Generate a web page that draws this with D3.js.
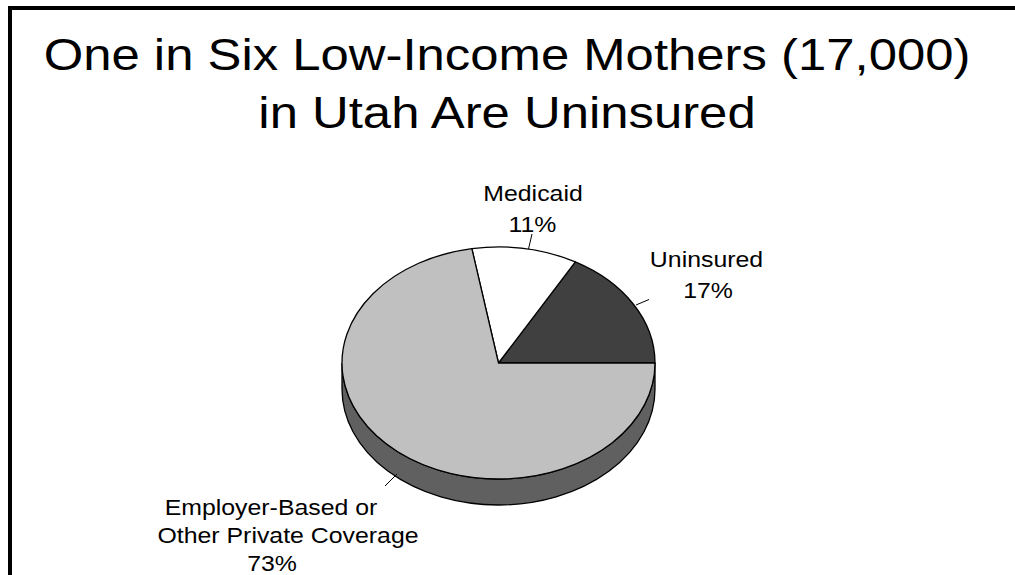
<!DOCTYPE html>
<html>
<head>
<meta charset="utf-8">
<script src="https://cdn.jsdelivr.net/npm/d3@7"></script>
<style>
  html, body { margin: 0; padding: 0; background: #fff; }
  svg { display: block; font-family: "Liberation Sans", Arial, sans-serif; }
</style>
</head>
<body>
<script>
// Coverage of low-income mothers in Utah (percent)
const categories = ["Uninsured", "Medicaid", "Employer-Based or Other Private Coverage"];
const values = [17, 11, 73];
const labelLines = [["Uninsured", "17%"], ["Medicaid", "11%"], ["Employer-Based or", "Other Private Coverage", "73%"]];
const titleLines = ["One in Six Low-Income Mothers (17,000)", "in Utah Are Uninsured"];

const W = 1015, H = 575;
const fills = ["#404040", "#ffffff", "#c0c0c0"];
const sideFill = "#606060";
const stretchX = 1.13;   // text is set slightly wide

// Pie geometry: a flattened disc seen from above
const cx = 498.5, cy = 363, rx = 156.5, ry = 116, depth = 26;
const k = ry / rx;

// Label placement: per-line centres and baselines, plus leader line
const labelLayout = [
  { xs: [706.5, 708], ys: [267, 298], leader: [[636, 305], [649, 299.5]] },
  { xs: [533, 532.5], ys: [201, 232], leader: [[528.5, 249], [532, 234]] },
  { xs: [271, 288, 272], ys: [515, 543, 571], leader: [[385, 486], [397, 474]] }
];

const svg = d3.select("body").append("svg")
  .attr("width", W).attr("height", H);

// Frame edges
svg.append("path")
  .attr("d", `M10,${H} L10,8 L${W},8`)
  .attr("fill", "none").attr("stroke", "#000").attr("stroke-width", 4);

// Writes one centred, horizontally stretched line of text
function line(sel, str, x, y, size) {
  sel.append("text")
    .attr("transform", `translate(${x},${y}) scale(${stretchX},1)`)
    .attr("text-anchor", "middle")
    .attr("font-size", size)
    .attr("fill", "#000")
    .text(str);
}

// Title
const title = svg.append("g");
titleLines.forEach((t, i) => line(title, t, 507, 70 + i * 58, 45));

// Slices run counter-clockwise from 3 o'clock
const pie = d3.pie().sort(null).startAngle(Math.PI / 2).endAngle(Math.PI / 2 - 2 * Math.PI);
const arcs = pie(values);
const arcGen = d3.arc().innerRadius(0).outerRadius(rx);

const disc = svg.append("g").attr("transform", `translate(${cx},${cy}) scale(1,${k})`);

// Front wall of the disc (only the near half is visible)
const D = depth / k;
const side = d3.path();
side.moveTo(-rx, 0);
side.arc(0, 0, rx, Math.PI, 0, true);
side.lineTo(rx, D);
side.arc(0, D, rx, 0, Math.PI, false);
side.closePath();
disc.append("path")
  .attr("d", side.toString())
  .attr("fill", sideFill)
  .attr("stroke", "#000").attr("stroke-width", 1.3)
  .attr("vector-effect", "non-scaling-stroke");

// Top faces of the slices
disc.selectAll("path.slice").data(arcs).join("path")
  .attr("class", "slice")
  .attr("d", arcGen)
  .attr("fill", (d, i) => fills[i])
  .attr("stroke", "#000").attr("stroke-width", 1.3)
  .attr("stroke-linejoin", "round")
  .attr("vector-effect", "non-scaling-stroke");

// Labels with leader lines
const lab = svg.append("g").selectAll("g").data(categories).join("g");
lab.append("line")
  .attr("x1", (d, i) => labelLayout[i].leader[0][0])
  .attr("y1", (d, i) => labelLayout[i].leader[0][1])
  .attr("x2", (d, i) => labelLayout[i].leader[1][0])
  .attr("y2", (d, i) => labelLayout[i].leader[1][1])
  .attr("stroke", "#000").attr("stroke-width", 1);
lab.each(function (d, i) {
  const g = d3.select(this);
  labelLines[i].forEach((t, j) =>
    line(g, t, labelLayout[i].xs[j], labelLayout[i].ys[j], 22));
});
</script>
</body>
</html>
